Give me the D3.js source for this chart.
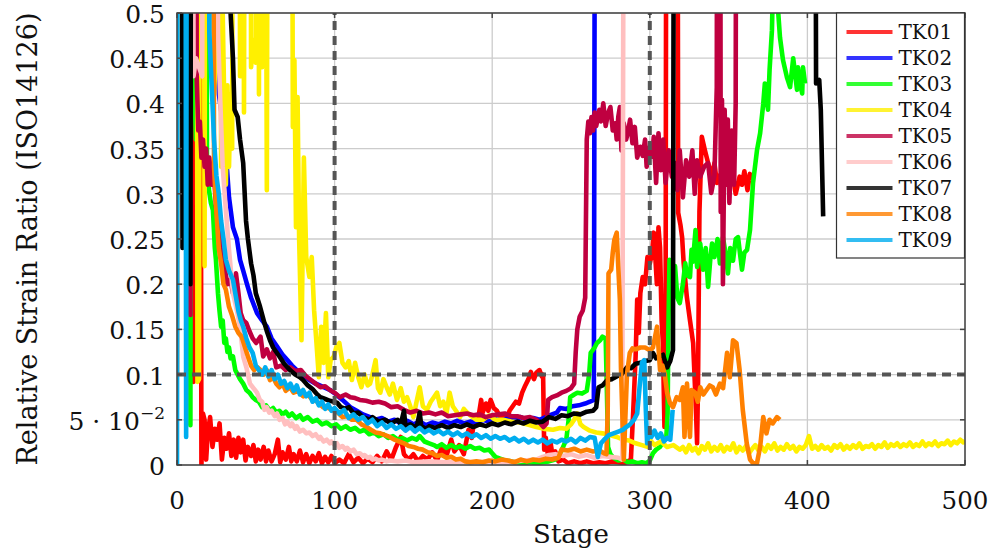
<!DOCTYPE html>
<html lang="en">

<head>
    <meta charset="UTF-8">
    <title>Relative Strain Ratio</title>
    <script src="https://d3js.org/d3.v7.min.js"></script>
    <style>
        body { margin: 0; background: #fff; }
    </style>
</head>

<body>
    <div id="chart"></div>

    <script>
        // values, [stage, ratio]; 1.5 = far above the axis
        const tk01 = [[9.5,1.5],[10.5,.092],[11.5,1.5],[14,1.5],[15.5,0],[16.5,.057],[17.5,.05],[18.5,.006],[19.5,.035],[21,.053],[22.5,.02],[24,.04],[25.5,.028],[27,.046],[28.5,.006],[30,.03],[31.5,.018],[33,.035],[34.5,.01],[36,.028],[37.5,.008],[39,.03],[40.5,.014],[42,.028],[43.5,.005],[45,.02],[47,.01],[48.5,.022],[50,.004],[51.5,.017],[53,.006],[55,.02],[56.5,.004],[58,.016],[60,.004],[62,.012],[64,.028],[65.5,.003],[67,.014],[69,.006],[71,.02],[72.5,.004],[74,.012],[76,.004],[78,.016],[80,.003],[82,.012],[84,.002],[86,.01],[88,.004],[90,.013],[92,.002],[94,.009],[96,.003],[98,.01],[100,.002],[103,.006],[106,.002],[109,.012],[112,.003],[115,.008],[118,.002],[121,.007],[124,.003],[127,.01],[130,.004],[133,.015],[136,.006],[139,.02],[142,.031],[144,.012],[147,.006],[150,.012],[153,.004],[156,.01],[159,.006],[162,.014],[165,.005],[168,.02],[171,.01],[174,.028],[176,.015],[179,.022],[182,.012],[185,.039],[187,.03],[189,.055],[191,.05],[193,.072],[194,.058],[196,.068],[197.5,.06],[199,.072],[201,.063],[203,.06],[205,.053],[207,.055],[209,.05],[211,.06],[213,.065],[215,.07],[217,.068],[219,.08],[221,.088],[223,.095],[224.5,.103],[226.5,.095],[228,.102],[230,.105],[231.5,.098],[232.3,.1],[233,.017],[234,.03],[235.5,.009],[237,.025],[238.5,.008],[240,.015],[242,.004],[245,.006],[248,.002],[252,.004],[256,.002],[260,.004],[264,.002],[268,.003],[272,.002],[276,.004],[280,.003],[284,.002],[288,.006],[289.5,.06],[291,.12],[292,.183],[293,.146],[294,.19],[295.5,.208],[297,.2],[298.5,.23],[300,.223],[301.5,.235],[302.5,.257],[303.5,.23],[304.5,.2],[305.5,.263],[306.5,.24],[307.5,.16],[308.3,.135],[309.3,.042],[310,.1],[311,1.5],[317,1.5],[318,.279],[319.5,.265],[320.5,.252],[321.5,.223],[323.5,.186],[325.5,.16],[327.5,.135],[329.3,.06],[330,.024],[330.6,.09],[331.5,.28],[333,.363],[335,.348],[337,.334],[339.5,.319],[341,.334],[342.6,.312],[344,.32],[345.8,.304],[347,.33],[349,.323],[350.5,.31],[352.8,.319],[354.5,.3],[357,.319],[358.5,.31],[360,.325],[362,.304],[363.5,.322],[365,.315]];

        const tk02 = [[21,1.5],[23.5,.478],[25,.45],[26.6,.41],[29,.38],[31,.345],[33,.296],[35.5,.263],[38,.25],[40,.227],[42,.215],[44.4,.2],[47,.185],[50.8,.168],[54,.16],[57,.153],[60,.14],[63.5,.131],[67,.122],[70,.116],[73,.11],[76,.105],[80,.1],[84,.094],[88,.09],[92,.087],[97,.083],[101,.078],[105,.072],[110,.064],[114,.06],[118,.056],[122.5,.053],[126,.05],[130,.052],[134,.048],[138,.05],[142,.046],[146,.049],[150,.045],[154,.048],[158,.044],[162,.047],[166,.045],[170,.048],[174,.046],[178,.049],[182,.046],[186,.048],[190,.047],[194,.05],[198,.048],[202,.051],[206,.049],[210,.052],[214,.05],[218,.053],[222,.05],[226,.052],[230,.05],[234,.053],[238,.056],[241,.058],[243,.063],[247,.062],[251,.065],[255,.066],[259,.068],[262,.07],[264.5,.072],[266,1.5]];

        const tk03 = [[7.5,1.5],[8.5,.044],[9.5,1.5],[10.5,1.5],[11,.43],[12,.36],[13,1.5],[18,1.5],[19,.34],[20.3,.304],[21.5,.29],[22.8,.282],[24,.24],[24.7,.227],[26,.19],[27,.17],[28,.153],[29,.16],[30,.135],[31,.14],[32,.125],[33,.13],[34,.118],[35.5,.12],[37,.105],[38.5,.1],[40,.095],[42,.09],[44,.083],[46,.08],[48,.075],[50,.072],[52,.07],[54,.064],[56.5,.066],[59,.06],[61,.063],[63,.058],[65,.06],[67,.056],[69,.059],[71,.054],[73,.057],[75.5,.052],[78,.055],[80,.05],[83,.053],[86,.048],[89,.05],[92,.045],[95,.047],[98,.043],[101,.045],[104,.04],[107,.043],[110,.039],[113,.041],[116,.037],[119,.039],[122,.034],[125,.036],[128,.032],[131,.034],[134,.03],[137,.032],[140,.028],[143,.03],[146,.027],[149,.03],[152,.028],[154,.032],[157,.026],[160,.024],[163,.022],[165,.02],[168,.023],[171,.019],[174,.022],[177,.019],[180,.021],[183,.018],[186,.021],[189,.018],[192,.019],[195,.016],[198,.017],[200,.013],[202,.009],[205,.007],[208,.005],[212,.004],[216,.003],[220,.002],[224,.003],[228,.002],[232,.003],[236,.004],[240,.006],[243,.012],[245,.02],[247,.028],[248.5,.05],[249.5,.075],[252,.078],[254,.08],[257,.079],[260,.082],[261.5,.1],[262.5,.124],[265,.13],[266.5,.135],[268.5,.138],[270,.142],[272,.14],[272.8,.08],[273.5,.02],[275,.012],[277,.008],[280,.005],[283,.006],[286,.003],[289,.004],[292,.002],[295,.003],[298,.002],[300,.005],[302,.013],[304,.017],[306.5,.02],[308.5,.026],[310.5,.031],[311.3,.057],[311.8,.15],[312.5,.227],[313.5,.2],[314.7,.19],[316,.22],[317.5,.185],[319,.179],[321,.2],[322.5,.223],[323.6,.21],[325.5,.208],[326.5,.238],[327.4,.225],[329,.26],[330,.219],[332,.245],[333.8,.216],[335.5,.24],[337,.197],[338.5,.23],[339.5,.245],[341,.23],[343,.25],[344.5,.223],[346.4,.252],[348,.235],[349.6,.212],[351,.24],[352.8,.226],[354.5,.25],[356,.252],[357.5,.23],[358.5,.216],[360,.235],[361.7,.238],[363.6,.26],[365.5,.312],[368,.348],[370,.367],[372,.4],[373,.422],[375,.393],[376,.437],[377.5,.481],[378,.52],[380.7,.52],[382.6,.473],[384.5,.448],[387,.429],[389,.418],[391,.45],[393.4,.415],[394,.44],[395.5,.42],[396.7,.411],[397.2,.44],[398.5,.422]];

        const tk04 = [[12,1.5],[13,.092],[14,.095],[15,1.5],[16.5,1.5],[17.5,.22],[18.5,1.5],[22,1.5],[23.5,.41],[24.5,.45],[25.5,1.5],[27,1.5],[28,.33],[29,.5],[30,.4],[31,.31],[32,.42],[33,.33],[34,.41],[35,.35],[36,1.5],[39,1.5],[40,.43],[41,1.5],[42.5,.39],[44,1.5],[46,1.5],[47,.44],[48.5,.47],[50,.445],[51,1.5],[52,.41],[53,1.5],[54,.44],[55,1.5],[57,.304],[58.5,1.5],[72,1.5],[73.5,.374],[74.5,.448],[75.5,.263],[76.5,.407],[77.5,.25],[79,.138],[80.5,.34],[82,.23],[84,.208],[85.5,.23],[87,.171],[88.5,.135],[90,.097],[91.5,.153],[93,.113],[94.5,.168],[96,.097],[97.5,.116],[99.5,.12],[101,.13],[103,.135],[105,.113],[107,.108],[109,.115],[111,.094],[113,.113],[115,.097],[117,.086],[119,.1],[121,.088],[122.5,.09],[124,.1],[126,.116],[127.5,.085],[129,.08],[131,.095],[133,.086],[135,.078],[137,.09],[139.6,.072],[142,.085],[144,.07],[146,.075],[148,.065],[150,.053],[152,.07],[154,.086],[156,.065],[158.6,.061],[161,.07],[163,.075],[165,.08],[167,.065],[169,.07],[171,.057],[173,.08],[175,.065],[177,.06],[179.6,.053],[182,.062],[184,.058],[186,.055],[190,.05],[194,.05],[198,.055],[202,.05],[207,.05],[212,.048],[217.6,.047],[222,.045],[228,.042],[233,.04],[238.6,.039],[243,.041],[247,.04],[250,.045],[252,.05],[254,.057],[256,.045],[258,.042],[262,.038],[266,.036],[270,.035],[275,.033],[279,.031],[283,.028],[287,.027],[291,.024],[295,.022],[299,.02],[300,.028],[303,.022],[307,.026],[311,.02],[315,.022],[319,.017],[321,.02],[323,.014],[325,.022],[327,.016],[329,.019],[331,.013],[333,.021],[335,.017],[337,.024],[339,.015],[341,.02],[343,.016],[345,.022],[347,.015],[349,.02],[351,.017],[353,.024],[355,.014],[357,.02],[359,.016],[361,.021],[363,.013],[365,.018],[367,.022],[369,.016],[371,.02],[373,.015],[375,.022],[377,.018],[379,.024],[381,.016],[383,.02],[385,.017],[387,.023],[389,.018],[391,.021],[393,.015],[395,.02],[397,.018],[399,.022],[401,.032],[403,.018],[405,.021],[407,.017],[409,.022],[411,.018],[413,.02],[415,.016],[417,.022],[419,.019],[421,.023],[423,.017],[425,.021],[427,.018],[429,.022],[431,.019],[433,.024],[435,.018],[437,.021],[439,.02],[441,.023],[443,.018],[445,.022],[447,.02],[449,.025],[451,.019],[453,.023],[455,.021],[457,.024],[459,.02],[461,.023],[463,.021],[465,.025],[467,.02],[469,.023],[471,.021],[473,.026],[475,.021],[477,.024],[479,.022],[481,.026],[483,.021],[485,.024],[487,.023],[489,.027],[491,.022],[493,.026],[495,.024],[497,.028],[499,.025],[500,.027]];

        const tk05 = [[7,1.5],[8.5,.166],[9.5,1.5],[11.5,1.5],[12.5,.43],[13.5,.37],[14.5,.38],[15.5,.34],[16.5,.36],[17.5,.33],[18.5,.35],[19.5,.31],[20.5,.34],[22,.31],[23.5,.32],[25,.28],[26.5,.27],[28,.24],[30,.22],[32,.2],[34,.205],[35.5,.19],[37.4,.212],[39,.19],[40.4,.168],[42,.16],[44,.157],[46,.148],[48,.14],[50.2,.135],[53,.142],[54.7,.12],[57,.128],[59,.118],[61,.125],[63,.108],[66,.11],[69,.105],[72,.108],[75,.104],[78.6,.105],[82,.098],[85,.094],[88,.09],[91,.086],[94,.087],[97,.083],[100,.08],[103.4,.075],[107,.078],[110,.075],[113,.074],[116,.072],[120,.071],[124,.069],[128,.07],[132,.068],[136,.064],[140,.065],[144,.061],[148,.058],[152,.06],[156,.057],[160,.058],[164,.056],[168,.058],[172,.054],[176,.055],[180,.056],[184,.057],[188,.055],[192,.056],[196,.053],[200,.055],[204,.056],[208,.057],[212,.054],[216,.054],[220,.052],[224,.053],[228,.05],[230.5,.046],[232.5,.042],[234.5,.046],[235.5,.072],[238,.075],[241,.077],[244,.08],[247,.082],[250,.085],[252,.09],[253,.125],[254,.15],[255.5,.164],[257.5,.171],[259,.185],[260,.36],[261,.38],[262,.367],[263,.385],[264,.37],[265,.39],[266,.375],[268,.393],[269,.38],[270.5,.4],[272,.375],[273.5,.389],[275,.396],[276.5,.37],[278,.378],[279,.36],[280,.385],[281,.396],[282,.348],[283.5,.378],[285,.36],[286,.367],[287.5,.382],[289,.356],[290.5,.374],[292,.34],[294,.352],[295.5,.342],[297,.36],[298,.33],[299,.345],[300,.352],[301.5,.341],[302.5,.363],[304,.312],[305.5,.367],[307,.326],[308.5,.36],[310,.312],[312,.348],[314,.319],[316,.334],[317.5,.304],[319,.348],[321,.296],[323,.337],[325,.319],[327,.348],[328.5,.3],[330,.337],[332,.319],[334.5,.33],[337,.334],[339,.301],[341,.32],[342.5,.418],[343.2,1.5],[344.2,1.5],[345,.28],[345.8,.404],[346.4,.2],[347.5,.393],[348.5,.31],[349.5,.382],[350.5,.29],[352,.37],[353.5,.31],[354.5,.4],[355.5,1.5]];

        const tk06 = [[9.5,1.5],[10.5,.43],[12,.45],[14,.44],[16,.43],[17.5,1.5],[24.5,1.5],[26,.48],[27.5,.4],[29,.33],[31,.282],[33,.238],[35.5,.19],[38,.171],[40,.153],[42,.12],[44,.108],[46.3,.09],[48.5,.085],[50.8,.08],[52.5,.072],[54,.07],[55.5,.061],[57,.064],[58.5,.058],[60,.06],[62,.054],[63.5,.057],[65,.05],[67,.052],[68.5,.045],[70,.048],[72,.043],[73,.046],[75,.04],[76,.043],[78,.037],[80,.039],[82,.035],[84,.036],[86,.032],[88,.034],[90,.029],[91,.031],[93,.026],[95,.028],[97,.024],[98,.026],[100,.022],[101.5,.024],[103,.019],[105,.021],[107,.017],[108,.019],[110,.015],[112,.017],[114,.012],[116,.013],[118,.01],[119,.011],[121,.008],[122.5,.009],[124,.006],[126,.007],[128,.005],[130,.006],[133,.004],[135,.005],[140,.004],[145,.005],[150,.003],[160,.004],[170,.003],[180,.004],[190,.003],[200,.004],[210,.003],[220,.005],[228,.006],[232,.009],[236,.011],[240,.012],[245,.01],[250,.012],[255,.009],[260,.011],[265,.008],[270,.01],[275,.009],[280,.008],[282.5,.006],[284.5,1.5]];

        const tk07 = [[2.5,1.5],[3.5,.24],[4.5,1.5],[7.5,1.5],[8.5,.2],[9.5,1.5],[31,1.5],[34,.5],[35.5,.45],[36.5,.393],[38.5,.385],[40,.36],[42,.334],[43.8,.27],[45,.25],[47,.223],[48.5,.21],[50,.19],[52.7,.175],[55,.16],[57,.148],[59,.138],[61,.13],[63,.125],[65,.12],[68,.112],[71.7,.105],[75,.1],[78,.097],[80,.094],[83,.088],[86,.084],[89,.078],[91,.075],[94,.073],[97,.071],[101.5,.069],[104,.064],[107,.062],[109,.064],[112,.057],[115,.058],[118,.053],[122.5,.05],[124,.053],[128,.048],[132,.05],[136,.046],[140,.05],[142,.045],[144,.06],[145,.043],[148,.045],[152,.041],[154,.058],[155,.043],[158,.04],[160,.043],[164,.041],[168,.044],[172,.041],[176,.044],[180,.042],[184,.045],[188,.042],[192,.045],[196,.043],[200,.046],[204,.044],[208,.047],[212,.045],[216,.048],[220,.046],[224,.049],[228,.047],[232,.048],[236,.053],[240,.051],[244,.055],[248,.054],[252,.057],[256,.056],[260,.059],[264,.06],[266,.064],[267.5,.086],[270,.088],[273,.094],[276,.095],[279,.098],[282,.1],[285.5,.108],[288,.107],[291,.112],[294,.113],[297,.115],[300,.116],[302,.124],[304,.118],[306,.12],[308.4,.122],[310,.113],[311,.108],[313,.115],[314.7,.127],[316,1.5],[404,1.5],[405.5,.422],[407.5,.426],[408.5,.393],[410,.275]];

        const tk08 = [[0,.1],[0.8,1.5],[22,1.5],[23.5,.33],[25,.28],[26.5,.24],[28,.223],[29.5,.2],[31,.194],[33,.175],[35,.165],[37,.153],[39,.146],[41,.142],[43,.131],[45,.12],[47,.11],[49,.105],[51,.108],[53,.105],[55,.1],[57,.105],[59,.094],[61,.097],[63,.09],[65,.086],[67,.09],[69,.082],[71.7,.086],[74,.08],[77,.082],[80,.076],[83,.078],[86,.072],[89,.07],[92.6,.064],[96,.063],[99,.061],[102,.058],[105,.053],[108,.054],[111,.05],[114,.05],[117,.045],[120.5,.042],[123,.039],[126,.036],[129,.035],[132,.033],[135,.031],[138,.028],[141,.026],[144,.024],[147,.021],[150,.02],[153,.018],[156,.017],[159,.014],[162,.013],[165,.01],[168,.011],[171,.008],[174,.009],[177,.006],[180,.007],[183,.004],[186,.003],[190,.004],[194,.003],[198,.005],[202,.004],[206,.006],[210,.005],[214,.003],[218,.006],[222,.004],[226,.006],[230,.005],[234,.007],[238,.006],[242,.008],[244,.017],[248,.016],[252,.018],[256,.015],[260,.017],[264,.015],[268,.016],[271,.013],[272.5,.012],[273.3,.06],[273.8,.212],[275.5,.216],[276.5,.235],[277.5,.249],[279,.257],[280,.219],[281,.183],[281.7,.108],[282.3,.072],[283.5,.006],[285.5,.1],[287.3,.124],[289,.129],[291,.128],[294,.13],[297,.13],[300,.127],[302,.13],[304.6,.153],[306.5,.105],[308,.11],[309.5,.1],[311,.08],[312.7,.069],[314.7,.064],[317,.075],[319,.072],[321,.086],[322,.031],[323.6,.09],[325.5,.031],[326.5,.083],[328.7,.08],[330.5,.07],[332,.086],[334,.078],[336,.083],[338,.088],[340,.086],[342,.078],[344.5,.09],[346.5,.085],[349,.124],[350.8,.097],[352.8,.138],[355,.135],[357,.105],[359,.061],[361.5,.024],[363.6,.006],[365.5,.002],[368,.002],[370,.02],[372,.053],[374,.035],[376,.05],[378,.046],[380.7,.053],[382.6,.05]];

        const tk09 = [[0,0],[0.8,1.5],[5,1.5],[5.8,.031],[6.6,1.5],[19.5,1.5],[20.5,.48],[22,.42],[23.5,.36],[25,.32],[26.5,.3],[28,.27],[29.5,.25],[31,.227],[33,.215],[35.5,.205],[37,.19],[39,.17],[40.5,.16],[42,.153],[44,.14],[46,.13],[48,.124],[50,.11],[52,.105],[54,.1],[56,.108],[58,.098],[60,.105],[62,.095],[64,.1],[66,.09],[68,.093],[70,.085],[72,.09],[74,.082],[76,.088],[78,.078],[80,.083],[82,.076],[84,.08],[86,.07],[88,.074],[90,.066],[92,.07],[94,.062],[96,.067],[98,.06],[100,.063],[103,.057],[106,.061],[109,.052],[112,.056],[115,.05],[118,.053],[121,.046],[124,.05],[127,.043],[130,.047],[133,.041],[136,.045],[139,.04],[142,.043],[145,.038],[148,.042],[151,.037],[154,.041],[157,.036],[160,.039],[163,.035],[166,.038],[169,.034],[172,.037],[175,.033],[178,.036],[181,.032],[184,.035],[187,.031],[190,.034],[193,.03],[196,.033],[199,.029],[202,.032],[205,.029],[208,.031],[211,.027],[214,.03],[217,.026],[220,.029],[223,.025],[226,.028],[229,.025],[232,.028],[235,.024],[238,.027],[241,.025],[244,.028],[247,.026],[250,.029],[253,.025],[256,.03],[259,.027],[262,.031],[265,.03],[267,.009],[269,.024],[271,.028],[274,.033],[277,.035],[280,.037],[283,.039],[285,.042],[287.5,.045],[290,.05],[292,.057],[293.5,.086],[295,.113],[296.5,.116],[297.5,.06],[298.3,.024],[299.5,.04],[301,.031],[303,.038],[305,.03],[307,.035],[309,.026],[311,.03],[313,.028],[314.5,.061]];

        const seriesNames = ["TK01", "TK02", "TK03", "TK04", "TK05", "TK06", "TK07", "TK08", "TK09"];
        const seriesColors = ["#ff0000", "#0000ff", "#00ff00", "#fff000", "#bf0040", "#ffbfbf", "#000000", "#ff8000", "#00adef"];
        const seriesData = [tk01, tk02, tk03, tk04, tk05, tk06, tk07, tk08, tk09];

        const xTicks = [0, 100, 200, 300, 400, 500];
        const yTicks = [0, 0.05, 0.1, 0.15, 0.2, 0.25, 0.3, 0.35, 0.4, 0.45, 0.5];
        const yTickLabels = ["0", "5 · 10", "0.1", "0.15", "0.2", "0.25", "0.3", "0.35", "0.4", "0.45", "0.5"];
        const refStages = [100, 300];
        const refRatios = [0.1];

        const W = 992, H = 553;
        const margin = { top: 13, right: 27, bottom: 88, left: 177 };
        const width = W - margin.left - margin.right;
        const height = H - margin.top - margin.bottom;
        const serif = "DejaVu Serif";

        const svg = d3.select("#chart").append("svg")
            .attr("width", W)
            .attr("height", H);

        const x = d3.scaleLinear().domain([0, 500]).range([margin.left, margin.left + width]);
        const y = d3.scaleLinear().domain([0, 0.5]).range([margin.top + height, margin.top]);

        svg.append("clipPath").attr("id", "plotClip")
            .append("rect")
            .attr("x", margin.left).attr("y", margin.top)
            .attr("width", width).attr("height", height);

        // grid
        const grid = svg.append("g").attr("stroke", "#cccccc").attr("stroke-width", 1.3);
        grid.selectAll(".gx").data(xTicks).join("line")
            .attr("x1", d => x(d)).attr("x2", d => x(d))
            .attr("y1", margin.top).attr("y2", margin.top + height);
        grid.selectAll(".gy").data(yTicks).join("line")
            .attr("x1", margin.left).attr("x2", margin.left + width)
            .attr("y1", d => y(d)).attr("y2", d => y(d));

        // series
        const line = d3.line()
            .x(d => x(d[0]))
            .y(d => y(d[1]));

        const lines = svg.append("g").attr("clip-path", "url(#plotClip)");
        seriesData.forEach((data, i) => {
            lines.append("path")
                .datum(data)
                .attr("fill", "none")
                .attr("stroke", seriesColors[i])
                .attr("stroke-width", 4.6)
                .attr("stroke-linejoin", "round")
                .attr("d", line);
        });

        // dashed reference lines
        const ref = svg.append("g")
            .attr("stroke", "#555555")
            .attr("stroke-width", 4)
            .attr("stroke-dasharray", "9,6");
        refStages.forEach(s => {
            ref.append("line")
                .attr("x1", x(s)).attr("x2", x(s))
                .attr("y1", margin.top + height).attr("y2", margin.top);
        });
        refRatios.forEach(r => {
            ref.append("line")
                .attr("x1", margin.left).attr("x2", margin.left + width)
                .attr("y1", y(r)).attr("y2", y(r));
        });

        // axis frame and inner ticks
        const axis = svg.append("g").attr("stroke", "#444").attr("stroke-width", 1.5);
        axis.append("rect")
            .attr("x", margin.left).attr("y", margin.top)
            .attr("width", width).attr("height", height)
            .attr("fill", "none");
        xTicks.forEach(t => {
            axis.append("line").attr("x1", x(t)).attr("x2", x(t))
                .attr("y1", margin.top + height).attr("y2", margin.top + height - 5);
            axis.append("line").attr("x1", x(t)).attr("x2", x(t))
                .attr("y1", margin.top).attr("y2", margin.top + 5);
        });
        yTicks.forEach(t => {
            axis.append("line").attr("x1", margin.left).attr("x2", margin.left + 5)
                .attr("y1", y(t)).attr("y2", y(t));
            axis.append("line").attr("x1", margin.left + width).attr("x2", margin.left + width - 5)
                .attr("y1", y(t)).attr("y2", y(t));
        });

        // tick labels
        svg.append("g").selectAll("text").data(xTicks).join("text")
            .attr("x", d => x(d))
            .attr("y", 509)
            .attr("text-anchor", "middle")
            .attr("font-family", serif)
            .attr("font-size", 24.5)
            .attr("fill", "#111")
            .text(d => d);

        const yLab = svg.append("g").selectAll("text").data(yTicks).join("text")
            .attr("x", 165)
            .attr("y", d => y(d) + 10)
            .attr("text-anchor", "end")
            .attr("font-family", serif)
            .attr("font-size", 25)
            .attr("fill", "#111")
            .text((d, i) => yTickLabels[i]);
        yLab.filter(d => d === 0.05).append("tspan")
            .attr("font-size", 17)
            .attr("dy", -11)
            .text("−2");

        // axis titles
        svg.append("text")
            .attr("x", x(250))
            .attr("y", 543)
            .attr("text-anchor", "middle")
            .attr("font-family", serif)
            .attr("font-size", 26)
            .attr("fill", "#111")
            .text("Stage");

        svg.append("text")
            .attr("transform", `translate(37,${margin.top + height / 2}) rotate(-90)`)
            .attr("text-anchor", "middle")
            .attr("font-family", serif)
            .attr("font-size", 27)
            .attr("fill", "#111")
            .text("Relative Strain Ratio (ISO14126)");

        // legend
        const lx = 836.5, ly = 13;
        const legend = svg.append("g");
        legend.append("rect")
            .attr("x", lx).attr("y", ly)
            .attr("width", 128).attr("height", 245)
            .attr("fill", "#fff")
            .attr("stroke", "#333")
            .attr("stroke-width", 1.2);
        seriesNames.forEach((name, i) => {
            const yy = ly + 19 + i * 26;
            legend.append("line")
                .attr("x1", lx + 10).attr("x2", lx + 56)
                .attr("y1", yy).attr("y2", yy)
                .attr("stroke", seriesColors[i])
                .attr("stroke-opacity", 0.8)
                .attr("stroke-width", 4);
            legend.append("text")
                .attr("x", lx + 62)
                .attr("y", yy + 7)
                .attr("font-family", serif)
                .attr("font-size", 20)
                .attr("fill", "#111")
                .text(name);
        });
    </script>
</body>

</html>
